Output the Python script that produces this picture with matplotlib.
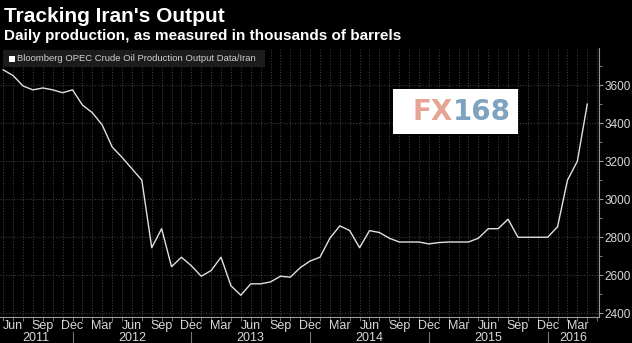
import matplotlib.pyplot as plt
import pandas as pd
from matplotlib.ticker import FixedLocator, MultipleLocator

# Iran crude output, thousands of barrels per day, monthly
months = pd.period_range("2011-05", "2016-04", freq="M")
output = [
    3680, 3650, 3595, 3575, 3585, 3575, 3560, 3575, 3495, 3455,
    3390, 3275, 3220, 3160, 3100, 2745, 2845, 2645, 2695, 2650,
    2595, 2625, 2695, 2545, 2495, 2555, 2555, 2565, 2595, 2590,
    2640, 2675, 2695, 2795, 2860, 2835, 2745, 2835, 2825, 2795,
    2775, 2775, 2775, 2765, 2772, 2775, 2775, 2775, 2795, 2845,
    2845, 2895, 2800, 2800, 2800, 2800, 2855, 3100, 3200, 3500,
]
y_ticks = [2400, 2600, 2800, 3000, 3200, 3400, 3600]

title = "Tracking Iran's Output"
subtitle = "Daily production, as measured in thousands of barrels"
series_name = "Bloomberg OPEC Crude Oil Production Output Data/Iran"

fg = "#d8d8d8"
grid_c = "#3c3c3c"
sans = ["Liberation Sans", "DejaVu Sans"]

fig = plt.figure(figsize=(6.32, 3.43), dpi=100, facecolor="black")
ax = fig.add_axes([0.0, 0.076, 0.948, 0.784], facecolor="black")

x = list(range(len(months)))
xmin, xmax = -0.33, 60.2
ax.plot(x, output, color="#e0e0e0", lw=1.0, zorder=3)
ax.set_xlim(xmin, xmax)
ax.set_ylim(2381, 3795)

# month ticks and dotted grid
ax.xaxis.set_major_locator(FixedLocator([i for i in range(61)]))
ax.set_xticklabels([])
ax.tick_params(axis="x", length=3, color="#888888", width=0.6)
ax.grid(axis="x", color=grid_c, ls=(0, (1, 1.5)), lw=0.8)

quarter = [i for i, p in enumerate(months) if p.month in (3, 6, 9, 12)]
for i in quarter:
    ax.text(i, -0.034, months[i].strftime("%b"), transform=ax.get_xaxis_transform(),
            ha="center", va="center", color=fg, fontsize=9, family=sans)

# year labels with separators at December
dec = [i for i, p in enumerate(months) if p.month == 12]
edges = [xmin] + dec + [xmax]
years = sorted(set(p.year for p in months))
for yr, a, b in zip(years, edges[:-1], edges[1:]):
    ax.text((a + b) / 2, -0.077, str(yr), transform=ax.get_xaxis_transform(),
            ha="center", va="center", color=fg, fontsize=9, family=sans)
for i in dec:
    ax.plot([i, i], [-0.055, -0.12], transform=ax.get_xaxis_transform(),
            color="#777777", lw=0.8, clip_on=False)

# right-hand value axis
ax.yaxis.tick_right()
ax.yaxis.set_major_locator(FixedLocator(y_ticks))
ax.yaxis.set_minor_locator(MultipleLocator(100))
ax.tick_params(axis="y", which="major", length=3, color="#999999", labelcolor=fg,
               labelsize=8.5, pad=1)
ax.tick_params(axis="y", which="minor", length=2, color="#999999")
for lbl in ax.get_yticklabels():
    lbl.set_family(sans)
ax.grid(axis="y", color=grid_c, ls=(0, (1, 1.5)), lw=0.8)

for side in ("top", "left"):
    ax.spines[side].set_visible(False)
for side in ("bottom", "right"):
    ax.spines[side].set_color("#999999")
    ax.spines[side].set_linewidth(0.8)

# legend strip
fig.patches.append(plt.Rectangle((3 / 632, 1 - 67 / 343), 262 / 632, 17 / 343,
                                 transform=fig.transFigure, fc="#1c1c1c", ec="none"))
fig.patches.append(plt.Rectangle((9 / 632, 1 - 62 / 343), 6 / 632, 6 / 343,
                                 transform=fig.transFigure, fc="white", ec="none"))
fig.text(17 / 632, 1 - 58.5 / 343, series_name, ha="left", va="center",
         color="#cfcfcf", fontsize=6.8, family=sans)

# FX168 badge
fig.patches.append(plt.Rectangle((393 / 632, 1 - 134 / 343), 125 / 632, 45 / 343,
                                 transform=fig.transFigure, fc="white", ec="none"))
fig.text(453 / 632, 1 - 111.5 / 343, "FX", ha="right", va="center", color="#e6a594",
         fontsize=20, fontweight="bold", family="DejaVu Sans")
fig.text(453 / 632, 1 - 111.5 / 343, "168", ha="left", va="center", color="#7fa2be",
         fontsize=20, fontweight="bold", family="DejaVu Sans")

fig.text(0.006, 1 - 17 / 343, title, ha="left", va="center", color="white",
         fontsize=15, fontweight="bold", family=sans)
fig.text(0.006, 1 - 36 / 343, subtitle, ha="left", va="center", color="white",
         fontsize=11, fontweight="bold", family=sans)

fig.savefig("out.png", dpi=100, facecolor="black")
